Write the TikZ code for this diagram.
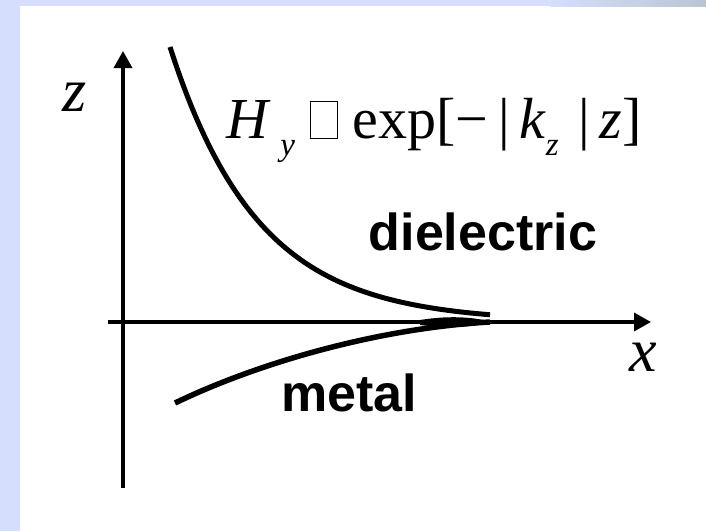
\documentclass[tikz,border=0pt]{standalone}
\usepackage{fontspec}
\setmainfont{Liberation Serif}
\setsansfont{Liberation Sans}
\usetikzlibrary{arrows.meta, positioning}
\definecolor{slideblue}{RGB}{213, 222, 252}
\definecolor{slidegray}{RGB}{184, 198, 210}
\newcommand{\lowsub}[1]{\raisebox{-0.3em}{\fontsize{33}{36}\selectfont\itshape #1}}
\newcommand{\glyphbox}{{\fboxsep=0pt\fboxrule=1pt\fbox{\rule{0pt}{0.62em}\hspace{0.46em}}}}

\begin{document}
\begin{tikzpicture}[x=1pt, y=-1pt,
  axis/.style={line width=3.5pt, -{Triangle[length=17pt, width=18pt]}},
  wave/.style={line width=5pt},
  varlabel/.style={font=\fontsize{62}{66}\selectfont\itshape, inner sep=0pt},
  regionlabel/.style={font=\fontsize{52}{56}\selectfont\sffamily\bfseries, inner sep=0pt}]
  % slide background
  \useasboundingbox (0,0) rectangle (706,531);
  \fill[slideblue] (0,0) rectangle (20,531);
  \fill[slideblue] (0,0) rectangle (550,6);
  \shade[left color=slideblue, right color=slidegray] (550,0) rectangle (706,6);

  % axes
  \coordinate (zbot) at (123,488);
  \coordinate (ztop) at (123,51);
  \coordinate (xleft) at (108,322);
  \coordinate (xright) at (651,322);
  \draw[axis] (zbot) -- (ztop);
  \draw[axis] (xleft) -- (xright);

  % field profiles
  \coordinate (tip) at (490,322);
  \coordinate (metalstart) at (175,403);
  \draw[wave] plot[domain=170:490, samples=60, smooth] (\x, {322-275*exp(-(\x-170)/88)});
  \draw[wave, line width=5.5pt] (metalstart) .. controls (260,362) and (380,328) .. (tip);
  \fill (420,320) .. controls (445,316) and (470,316) .. (492,322)
        .. controls (470,328) and (445,328) .. (420,325) -- cycle;

  % labels
  \node[varlabel] (zlabel) at (75,97) {z};
  \node[varlabel] (xlabel) at (643,357) {x};
  \node[anchor=base west, inner sep=0pt, font=\fontsize{58}{62}\selectfont] (field) at (226,138)
    {\textit{H}\,\lowsub{y}\ \glyphbox\ exp[−\thinspace|\,\textit{k}\lowsub{z}\,\thinspace|\,\textit{z}]};
  \node[regionlabel] (diel) at (483,232) {dielectric};
  \node[regionlabel] (metal) at (349,393) {metal};
\end{tikzpicture}
\end{document}
